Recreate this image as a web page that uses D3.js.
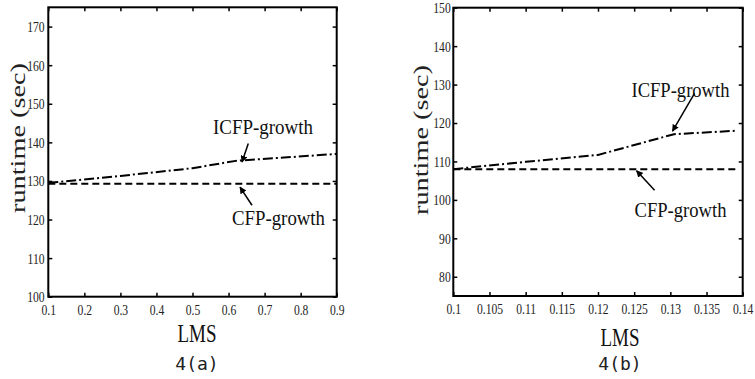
<!DOCTYPE html>
<html>
<head>
<meta charset="utf-8">
<script src="https://cdn.jsdelivr.net/npm/d3@7"></script>
<style>
  body { margin: 0; background: #fff; }
  svg { display: block; }
</style>
</head>
<body>
<div id="chart"></div>
<script>
const width = 755;
const height = 379;

// panel 4(a)
const lmsA = [0.1, 0.3, 0.5, 0.62, 0.9];
const icfpA = [129.5, 131.3, 133.3, 135.2, 137.0];
const cfpA = [129.3, 129.3, 129.3, 129.3, 129.3];
const xTicksA = [0.1, 0.2, 0.3, 0.4, 0.5, 0.6, 0.7, 0.8, 0.9];
const yTicksA = [100, 110, 120, 130, 140, 150, 160, 170];

// panel 4(b)
const lmsB = [0.1, 0.11, 0.12, 0.1305, 0.1392];
const icfpB = [108.0, 109.9, 111.7, 117.1, 118.0];
const cfpB = [108.0, 108.0, 108.0, 108.0, 108.0];
const xTicksB = [0.1, 0.105, 0.11, 0.115, 0.12, 0.125, 0.13, 0.135, 0.14];
const yTicksB = [80, 90, 100, 110, 120, 130, 140, 150];

const svg = d3.select('#chart')
	.append('svg')
	.attr('width', width)
	.attr('height', height);

// arrow head
svg.append('defs').append('marker')
	.attr('id', 'arrow')
	.attr('viewBox', '0 0 10 10')
	.attr('refX', 9)
	.attr('refY', 5)
	.attr('markerWidth', 7)
	.attr('markerHeight', 7)
	.attr('markerUnits', 'userSpaceOnUse')
	.attr('orient', 'auto')
	.append('path')
	.attr('d', 'M0,0 L10,5 L0,10 Z')
	.attr('fill', '#000');

const serif = '"Liberation Serif", "Times New Roman", serif';

function panel(p) {
	let x = d3.scaleLinear().domain(p.xDomain).range([p.left, p.right]);
	let y = d3.scaleLinear().domain(p.yDomain).range([p.bottom, p.top]);

	let g = svg.append('g');

	let styleTicks = sel => {
		sel.attr('font-family', serif).attr('font-size', 15.5);
		sel.select('.domain').remove();
		sel.selectAll('line').attr('stroke', '#000').attr('stroke-width', 1.5);
		sel.selectAll('text').attr('fill', '#222');
	};

	// bottom axis with labels
	g.append('g')
		.attr('transform', `translate(0,${p.bottom})`)
		.call(d3.axisBottom(x).tickValues(p.xTicks).tickSizeInner(-4).tickSizeOuter(0)
			.tickPadding(7).tickFormat(d => String(d)))
		.call(styleTicks)
		.call(a => a.selectAll('text').attr('transform', 'scale(0.75,1)'));

	// left axis with labels
	g.append('g')
		.attr('transform', `translate(${p.left},0)`)
		.call(d3.axisLeft(y).tickValues(p.yTicks).tickSizeInner(-4).tickSizeOuter(0)
			.tickPadding(p.yPad))
		.call(styleTicks)
		.call(a => a.selectAll('text').attr('transform', 'scale(0.75,1)'));

	// top and right ticks, no labels
	g.append('g')
		.attr('transform', `translate(0,${p.top})`)
		.call(d3.axisTop(x).tickValues(p.xTicks).tickSizeInner(-4).tickSizeOuter(0).tickFormat(''))
		.call(styleTicks);
	g.append('g')
		.attr('transform', `translate(${p.right},0)`)
		.call(d3.axisRight(y).tickValues(p.yTicks).tickSizeInner(-4).tickSizeOuter(0).tickFormat(''))
		.call(styleTicks);

	// frame
	g.append('rect')
		.attr('x', p.left)
		.attr('y', p.top)
		.attr('width', p.right - p.left)
		.attr('height', p.bottom - p.top)
		.attr('fill', 'none')
		.attr('stroke', '#000')
		.attr('stroke-width', 2);

	let line = d3.line()
		.x(d => x(d[0]))
		.y(d => y(d[1]));

	g.append('path')
		.datum(d3.zip(p.lms, p.cfp))
		.attr('d', line)
		.attr('fill', 'none')
		.attr('stroke', '#000')
		.attr('stroke-width', 2)
		.attr('stroke-dasharray', '7,4');

	g.append('path')
		.datum(d3.zip(p.lms, p.icfp))
		.attr('d', line)
		.attr('fill', 'none')
		.attr('stroke', '#000')
		.attr('stroke-width', 2)
		.attr('stroke-dasharray', '10,3,2,3');

	// annotations (placed in data units)
	p.notes.forEach(n => {
		g.append('text')
			.attr('x', x(n.tx))
			.attr('y', y(n.ty))
			.attr('text-anchor', 'middle')
			.attr('font-family', serif)
			.attr('font-size', 21)
			.attr('fill', '#111')
			.attr('textLength', n.len)
			.attr('lengthAdjust', 'spacingAndGlyphs')
			.text(n.label);
		g.append('line')
			.attr('x1', x(n.ax[0])).attr('y1', y(n.ay[0]))
			.attr('x2', x(n.ax[1])).attr('y2', y(n.ay[1]))
			.attr('stroke', '#000')
			.attr('stroke-width', 1.5)
			.attr('marker-end', 'url(#arrow)');
	});

	// y label
	g.append('text')
		.attr('transform', `translate(${p.yLabelX},${p.yLabelY}) rotate(-90)`)
		.attr('text-anchor', 'middle')
		.attr('font-family', serif)
		.attr('font-size', 22)
		.attr('fill', '#222')
		.attr('textLength', 150)
		.attr('lengthAdjust', 'spacingAndGlyphs')
		.text('runtime (sec)');

	// x label
	g.append('text')
		.attr('x', p.cx)
		.attr('y', p.lmsY)
		.attr('text-anchor', 'middle')
		.attr('font-family', serif)
		.attr('font-size', 25)
		.attr('fill', '#111')
		.attr('textLength', 39)
		.attr('lengthAdjust', 'spacingAndGlyphs')
		.text('LMS');

	g.append('text')
		.attr('x', p.cx)
		.attr('y', 370)
		.attr('text-anchor', 'middle')
		.attr('font-family', '"DejaVu Sans Mono", "Liberation Mono", monospace')
		.attr('font-size', 18)
		.attr('fill', '#222')
		.text(p.caption);
}

panel({
	xDomain: [0.1, 0.9], yDomain: [100, 175],
	left: 48.3, right: 336.7, top: 7.3, bottom: 296.7,
	lms: lmsA, icfp: icfpA, cfp: cfpA,
	xTicks: xTicksA, yTicks: yTicksA, yPad: 5,
	yLabelX: 25, yLabelY: 138, cx: 197, lmsY: 342, caption: '4(a)',
	notes: [
		{ label: 'ICFP-growth', tx: 0.6956, ty: 142.1, len: 100, ax: [0.6548, 0.6373], ay: [139.7, 134.9] },
		{ label: 'CFP-growth', tx: 0.7386, ty: 118.7, len: 93, ax: [0.665, 0.6318], ay: [123.7, 128.4] }
	]
});

panel({
	xDomain: [0.1, 0.14], yDomain: [75, 150],
	left: 453.3, right: 742.7, top: 7.7, bottom: 296,
	lms: lmsB, icfp: icfpB, cfp: cfpB,
	xTicks: xTicksB, yTicks: yTicksB, yPad: 3.5,
	yLabelX: 428, yLabelY: 140, cx: 620, lmsY: 346, caption: '4(b)',
	notes: [
		{ label: 'ICFP-growth', tx: 0.1314, ty: 126.7, len: 98, ax: [0.13334, 0.1303], ay: [127.7, 117.9] },
		{ label: 'CFP-growth', tx: 0.1314, ty: 95.6, len: 92, ax: [0.12782, 0.12533], ay: [102.5, 107.6] }
	]
});
</script>
</body>
</html>
